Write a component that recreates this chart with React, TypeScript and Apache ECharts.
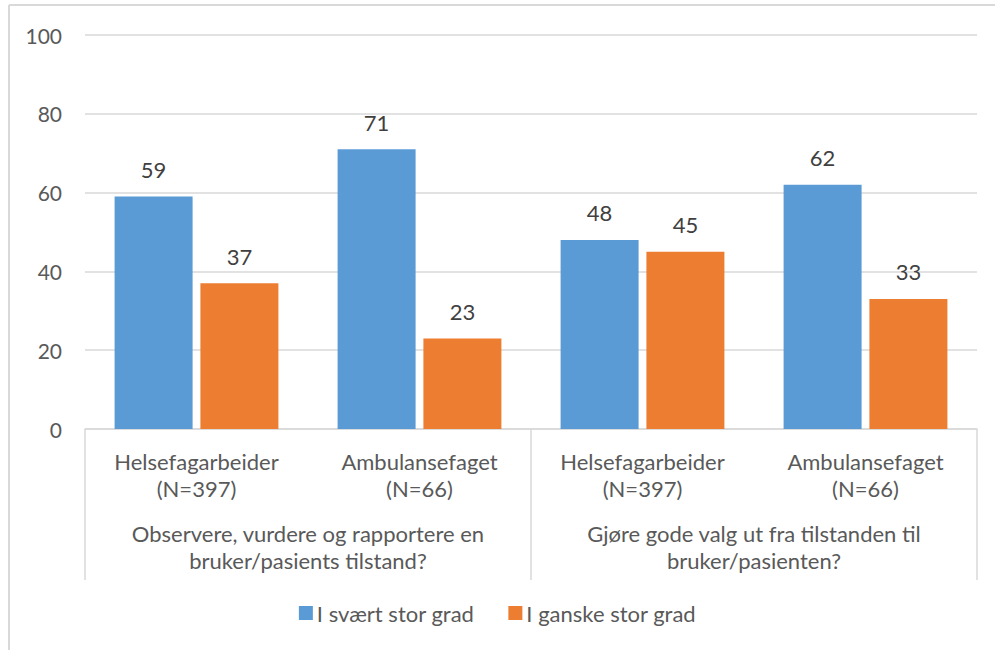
import React, { useEffect, useRef } from "react";
import * as echarts from "echarts";

const innerCategories = [
  "Helsefagarbeider\n(N=397)",
  "Ambulansefaget\n(N=66)",
  "Helsefagarbeider\n(N=397)",
  "Ambulansefaget\n(N=66)",
];
const groupCategories = [
  "Observere, vurdere og rapportere en\nbruker/pasients tilstand?",
  "Gjøre gode valg ut fra tilstanden til\nbruker/pasienten?",
];
const seriesNames = ["I svært stor grad", "I ganske stor grad"];
const svaertStor = [59, 71, 48, 62];
const ganskeStor = [37, 23, 45, 33];
const yTicks = { min: 0, max: 100, interval: 20 };

const FONT = "Lato";
const TEXT = "#595959";
const LINE = "#d9d9d9";

export default function App() {
  const ref = useRef<HTMLDivElement>(null);
  useEffect(() => {
    if (!ref.current) return;
    const chart = echarts.init(ref.current, undefined, { renderer: "svg" });
    chart.setOption({
      animation: false,
      textStyle: { fontFamily: FONT },
      graphic: [
        {
          type: "line",
          shape: { x1: 9, y1: 5, x2: 995, y2: 5 },
          style: { stroke: LINE, lineWidth: 2 },
        },
        {
          type: "line",
          shape: { x1: 9, y1: 5, x2: 9, y2: 650 },
          style: { stroke: LINE, lineWidth: 2 },
        },
      ],
      legend: {
        data: seriesNames,
        bottom: 21,
        left: "center",
        itemWidth: 14,
        itemHeight: 14,
        itemGap: 34,
        icon: "rect",
        textStyle: { fontFamily: FONT, fontSize: 22, color: TEXT, padding: [0, 0, 0, -1] },
      },
      grid: { left: 85, right: 18, top: 35, bottom: 221, containLabel: false },
      xAxis: [
        {
          type: "category",
          data: innerCategories,
          position: "bottom",
          axisLine: { show: true, lineStyle: { color: LINE, width: 1.5 } },
          axisTick: { show: false },
          axisLabel: {
            fontFamily: FONT,
            fontSize: 22,
            color: TEXT,
            lineHeight: 27,
            margin: 19,
            interval: 0,
          },
        },
        {
          type: "category",
          data: groupCategories,
          position: "bottom",
          axisLine: { show: false },
          axisTick: {
            show: true,
            inside: false,
            length: 151,
            lineStyle: { color: LINE, width: 1.5 },
          },
          axisLabel: {
            fontFamily: FONT,
            fontSize: 22,
            color: TEXT,
            lineHeight: 27,
            margin: 91,
            interval: 0,
          },
        },
      ],
      yAxis: {
        type: "value",
        min: yTicks.min,
        max: yTicks.max,
        interval: yTicks.interval,
        axisLine: { show: false },
        axisTick: { show: false },
        splitLine: { lineStyle: { color: LINE, width: 1.5 } },
        axisLabel: { fontFamily: FONT, fontSize: 21, color: TEXT, margin: 23 },
      },
      series: [
        {
          name: seriesNames[0],
          type: "bar",
          xAxisIndex: 0,
          data: svaertStor,
          barWidth: 78,
          barGap: "10%",
          itemStyle: { color: "#5B9BD5" },
          label: {
            show: true,
            position: "top",
            distance: 16,
            fontFamily: FONT,
            fontSize: 22,
            color: "#404040",
          },
        },
        {
          name: seriesNames[1],
          type: "bar",
          xAxisIndex: 0,
          data: ganskeStor,
          barWidth: 78,
          barGap: "10%",
          itemStyle: { color: "#ED7D31" },
          label: {
            show: true,
            position: "top",
            distance: 16,
            fontFamily: FONT,
            fontSize: 22,
            color: "#404040",
          },
        },
      ],
    });
    return () => chart.dispose();
  }, []);
  return <div ref={ref} style={{ width: 995, height: 650, position: "absolute", left: 0, top: 0 }} />;
}
